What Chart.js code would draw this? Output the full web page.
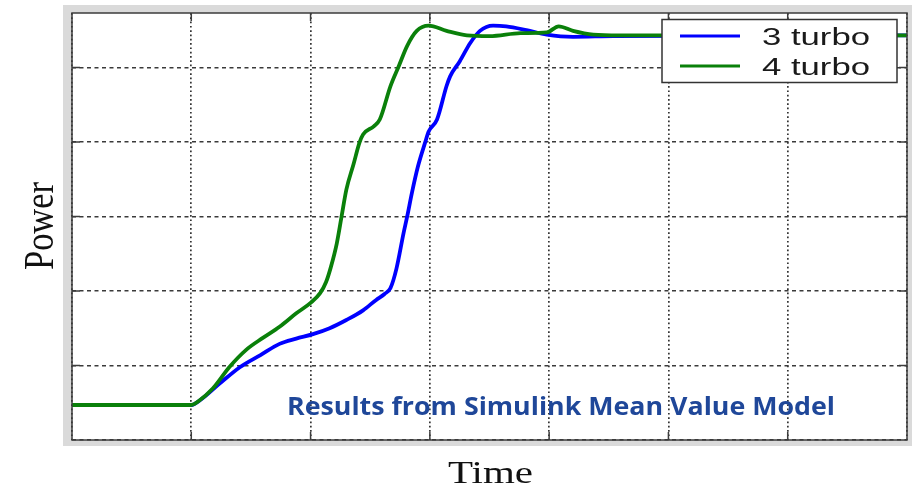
<!DOCTYPE html>
<html>
<head>
<meta charset="utf-8">
<title>Power vs Time - 3 turbo / 4 turbo</title>
<script src="https://cdn.jsdelivr.net/npm/chart.js@4.4.1/dist/chart.umd.min.js"></script>
<style>
    html, body { margin: 0; padding: 0; background: #fff; }
    #wrap { width: 912px; height: 488px; }
</style>
</head>
<body>
<div id="wrap"><canvas id="powerChart" width="912" height="488"></canvas></div>
<script>
// Values (time and power in grid units)
const time3 = [0, 1.0, 1.07, 1.24, 1.41, 1.58, 1.74, 1.88, 2.02, 2.16, 2.30, 2.44, 2.55, 2.62, 2.67,
    2.72, 2.78, 2.81, 2.85, 2.90, 2.96, 2.99, 3.06, 3.14, 3.17, 3.25, 3.34, 3.42, 3.53, 3.64,
    3.81, 3.98, 4.20, 4.54, 7.0];
const power3 = [0.47, 0.47, 0.53, 0.76, 0.98, 1.14, 1.29, 1.36, 1.42, 1.50, 1.61, 1.74, 1.88, 1.96, 2.04,
    2.30, 2.78, 3.00, 3.32, 3.67, 3.99, 4.14, 4.30, 4.75, 4.88, 5.08, 5.33, 5.49, 5.56, 5.55,
    5.50, 5.44, 5.41, 5.42, 5.43];

const time4 = [0, 1.0, 1.06, 1.18, 1.32, 1.46, 1.60, 1.74, 1.88, 2.0, 2.08, 2.13, 2.17, 2.22, 2.26,
    2.30, 2.36, 2.41, 2.44, 2.53, 2.58, 2.67, 2.74, 2.81, 2.89, 2.99, 3.14, 3.31, 3.50, 3.76,
    3.98, 4.08, 4.20, 4.37, 4.59, 7.0];
const power4 = [0.47, 0.47, 0.52, 0.69, 0.98, 1.21, 1.37, 1.52, 1.70, 1.84, 1.97, 2.12, 2.32, 2.64, 3.00,
    3.36, 3.70, 3.99, 4.10, 4.21, 4.30, 4.75, 5.02, 5.29, 5.49, 5.56, 5.49, 5.43, 5.42, 5.46,
    5.47, 5.55, 5.49, 5.44, 5.43, 5.43];

const seriesLabels = ['3 turbo', '4 turbo'];
const xTicks = [0, 1, 2, 3, 4, 5, 6, 7];
const yTicks = [0, 1, 2, 3, 4, 5];
const yMax = 5.73;

const toPoints = (xs, ys) => xs.map((x, i) => ({ x: x, y: ys[i] }));

// draw text squeezed/stretched to a given width
function fitText(ctx, text, x, y, width, yScale) {
    const w = ctx.measureText(text).width;
    ctx.save();
    ctx.translate(x, y);
    ctx.scale(width / w, yScale || 1);
    ctx.fillText(text, 0, 0);
    ctx.restore();
}

// Matlab-like frame, inward ticks, legend box and labels
const matlabFrame = {
    id: 'matlabFrame',
    beforeDraw(chart) {
        const { ctx, chartArea: a } = chart;
        ctx.save();
        ctx.fillStyle = '#ffffff';
        ctx.fillRect(0, 0, chart.width, chart.height);
        ctx.fillStyle = '#dadada';
        ctx.fillRect(a.left - 9, a.top - 8, chart.width - (a.left - 9), (a.bottom + 6) - (a.top - 8));
        ctx.fillStyle = '#ffffff';
        ctx.fillRect(a.left, a.top, a.right - a.left, a.bottom - a.top);
        ctx.restore();
    },
    afterDatasetsDraw(chart) {
        const { ctx, chartArea: a, scales } = chart;
        ctx.save();

        // inward tick marks
        ctx.strokeStyle = '#3c3c3c';
        ctx.lineWidth = 1.5;
        ctx.beginPath();
        xTicks.slice(1, -1).forEach(v => {
            const px = scales.x.getPixelForValue(v);
            ctx.moveTo(px, a.top); ctx.lineTo(px, a.top + 8);
            ctx.moveTo(px, a.bottom); ctx.lineTo(px, a.bottom - 8);
        });
        yTicks.slice(1).forEach(v => {
            const py = scales.y.getPixelForValue(v);
            ctx.moveTo(a.left, py); ctx.lineTo(a.left + 8, py);
            ctx.moveTo(a.right, py); ctx.lineTo(a.right - 8, py);
        });
        ctx.stroke();

        // axes box
        ctx.strokeRect(a.left, a.top, a.right - a.left, a.bottom - a.top);

        // legend
        const bx = a.right - 245, by = a.top + 6.5, bw = 235, bh = 63;
        ctx.fillStyle = '#ffffff';
        ctx.fillRect(bx, by, bw, bh);
        ctx.strokeStyle = '#333333';
        ctx.lineWidth = 1.5;
        ctx.strokeRect(bx, by, bw, bh);
        ctx.font = '23px "Liberation Sans", Arial, sans-serif';
        ctx.textBaseline = 'alphabetic';
        chart.data.datasets.forEach((ds, i) => {
            const ly = by + 16.5 + i * 30;
            ctx.strokeStyle = ds.borderColor;
            ctx.lineWidth = 3.2;
            ctx.beginPath();
            ctx.moveTo(bx + 18, ly);
            ctx.lineTo(bx + 78, ly);
            ctx.stroke();
            ctx.fillStyle = '#1a1a1a';
            fitText(ctx, ds.label, bx + 100, ly + 8.5, 108);
        });
        ctx.restore();
    },
    afterDraw(chart) {
        const { ctx } = chart;
        ctx.save();
        ctx.fillStyle = '#111111';
        ctx.textBaseline = 'alphabetic';
        ctx.font = '32px "Liberation Serif", "Times New Roman", serif';
        fitText(ctx, 'Time', 448, 483, 85);

        ctx.font = '33px "Liberation Serif", "Times New Roman", serif';
        ctx.translate(53, 270);
        ctx.rotate(-Math.PI / 2);
        fitText(ctx, 'Power', 0, 0, 88, 1.3);
        ctx.restore();

        ctx.save();
        ctx.fillStyle = '#1f4799';
        ctx.font = 'bold 25px "Open Sans", sans-serif';
        ctx.textBaseline = 'alphabetic';
        fitText(ctx, 'Results from Simulink Mean Value Model', 287, 415, 548);
        ctx.restore();
    }
};

const chart = new Chart(document.getElementById('powerChart'), {
    type: 'line',
    data: {
        datasets: [{
            label: seriesLabels[0],
            data: toPoints(time3, power3),
            borderColor: '#0000ff',
            borderWidth: 3.8,
            pointRadius: 0,
            cubicInterpolationMode: 'monotone',
            order: 1
        }, {
            label: seriesLabels[1],
            data: toPoints(time4, power4),
            borderColor: '#0a800a',
            borderWidth: 3.8,
            pointRadius: 0,
            cubicInterpolationMode: 'monotone',
            order: 0
        }]
    },
    options: {
        responsive: false,
        animation: false,
        events: [],
        layout: { padding: { left: 72, top: 13, right: 5, bottom: 48 } },
        plugins: {
            legend: { display: false },
            tooltip: { enabled: false }
        },
        scales: {
            x: {
                type: 'linear',
                min: 0,
                max: 7,
                afterBuildTicks: s => { s.ticks = xTicks.map(v => ({ value: v })); },
                ticks: { display: false },
                grid: { color: '#333333', lineWidth: 1.7, drawTicks: false },
                border: { display: false, dash: [1.7, 2.6] }
            },
            y: {
                type: 'linear',
                min: 0,
                max: yMax,
                afterBuildTicks: s => { s.ticks = yTicks.map(v => ({ value: v })); },
                ticks: { display: false },
                grid: { color: '#3a3a3a', lineWidth: 1.5, drawTicks: false },
                border: { display: false, dash: [4, 3.5] }
            }
        }
    },
    plugins: [matlabFrame]
});
</script>
</body>
</html>
